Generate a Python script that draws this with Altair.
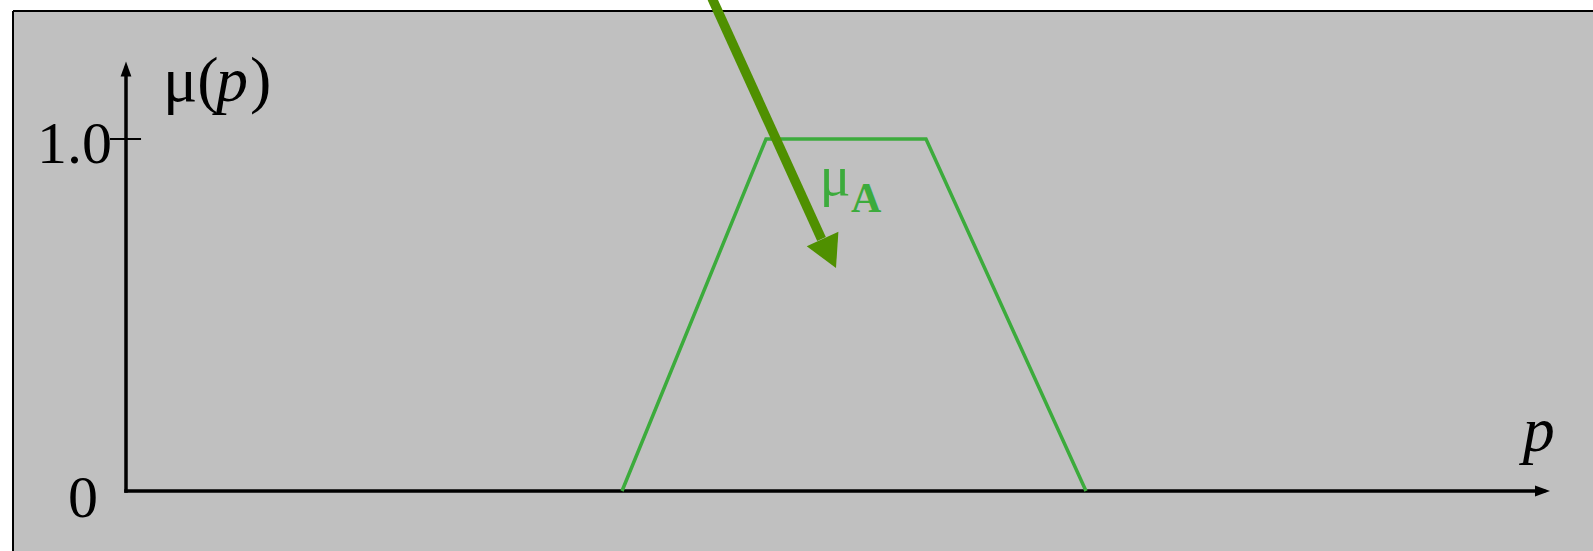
import altair as alt
import pandas as pd

# Trapezoidal membership function of fuzzy set A
p_points = [3.1, 4.0, 5.0, 6.0]
mu_points = [0.0, 1.0, 1.0, 0.0]

# Axis extents (arrow tips) and the labelled tick
p_axis_end = 8.9
mu_axis_end = 1.22
tick_value = 1.0
tick_half = [-0.1, 0.094]

# Pointer arrow coming down onto the set
arrow_p = [3.6625, 4.347]
arrow_mu = [1.40, 0.716]
arrow_tip_p = [4.4375]
arrow_tip_mu = [0.6335]

# Text
y_tick_labels = ["1.0", "0"]
y_title_parts = ["μ(", "p", ")"]
x_title = "p"
set_label = ["μ", "A"]

W, H = 1580, 540
FONT = "Liberation Serif"
LINE_GREEN = "#3cab3c"
ARROW_GREEN = "#4f9000"

xs = alt.Scale(domain=[-0.70625, 9.16875], nice=False, zero=False)
ys = alt.Scale(domain=[-0.170455, 1.363636], nice=False, zero=False)


def X(field="p"):
    return alt.X(f"{field}:Q", scale=xs, axis=None)


def Y(field="mu"):
    return alt.Y(f"{field}:Q", scale=ys, axis=None)


def df(**cols):
    return pd.DataFrame(cols)


one = df(a=[0])

# frame edges (top and left)
frame_top = alt.Chart(one).mark_rule(color="black", strokeWidth=2).encode(
    x=alt.value(0), x2=alt.value(W), y=alt.value(0))
frame_left = alt.Chart(one).mark_rule(color="black", strokeWidth=2).encode(
    x=alt.value(0), y=alt.value(0), y2=alt.value(H))

# axes
y_axis = alt.Chart(df(p=[0.0], mu=[0.0], mu2=[mu_axis_end - 0.02])).mark_rule(
    color="black", strokeWidth=3.5, strokeCap="square").encode(x=X(), y=Y(), y2="mu2:Q")
x_axis = alt.Chart(df(p=[0.0], p2=[p_axis_end - 0.04], mu=[0.0])).mark_rule(
    color="black", strokeWidth=3.5, strokeCap="square").encode(x=X(), x2="p2:Q", y=Y())
tick = alt.Chart(df(p=[tick_half[0]], p2=[tick_half[1]], mu=[tick_value])).mark_rule(
    color="black", strokeWidth=2).encode(x=X(), x2="p2:Q", y=Y())

head_shape = "M0,0 L-0.72,2 L0.72,2 Z"
y_head = alt.Chart(df(p=[0.0], mu=[mu_axis_end])).mark_point(
    shape=head_shape, filled=True, size=225, color="black", opacity=1, strokeWidth=0
).encode(x=X(), y=Y())
x_head = alt.Chart(df(p=[p_axis_end], mu=[0.0])).mark_point(
    shape=head_shape, filled=True, size=225, angle=90, color="black", opacity=1, strokeWidth=0
).encode(x=X(), y=Y())

# membership function
trap = alt.Chart(df(p=p_points, mu=mu_points)).mark_line(
    color=LINE_GREEN, strokeWidth=3.5, strokeJoin="miter").encode(x=X(), y=Y())

# pointer arrow
shaft = alt.Chart(df(p=arrow_p, mu=arrow_mu)).mark_line(
    color=ARROW_GREEN, strokeWidth=9.5, strokeCap="butt").encode(x=X(), y=Y())
big_head = alt.Chart(df(p=arrow_tip_p, mu=arrow_tip_mu)).mark_point(
    shape="M0,0 L-1.09,2 L1.09,2 Z", filled=True, size=1024, angle=155.2,
    color=ARROW_GREEN, opacity=1, strokeWidth=0
).encode(x=X(), y=Y())

# tick labels
lbl_one = alt.Chart(df(p=[-0.0875], mu=[tick_value], t=[y_tick_labels[0]])).mark_text(
    font=FONT, fontSize=60, align="right", baseline="alphabetic", dy=24, color="black"
).encode(x=X(), y=Y(), text="t:N")
lbl_zero = alt.Chart(df(p=[-0.175], mu=[0.0], t=[y_tick_labels[1]])).mark_text(
    font=FONT, fontSize=60, align="right", baseline="alphabetic", dy=26, color="black"
).encode(x=X(), y=Y(), text="t:N")

# y title μ(p)
yt_a = alt.Chart(df(p=[0.231], mu=[1.108], t=[y_title_parts[0]])).mark_text(
    font=FONT, fontSize=64, align="left", baseline="alphabetic", color="black"
).encode(x=X(), y=Y(), text="t:N")
yt_b = alt.Chart(df(p=[0.5625], mu=[1.108], t=[y_title_parts[1]])).mark_text(
    font=FONT, fontSize=64, fontStyle="italic", align="left", baseline="alphabetic", color="black"
).encode(x=X(), y=Y(), text="t:N")
yt_c = alt.Chart(df(p=[0.775], mu=[1.108], t=[y_title_parts[2]])).mark_text(
    font=FONT, fontSize=64, align="left", baseline="alphabetic", color="black"
).encode(x=X(), y=Y(), text="t:N")

# x title p
xt = alt.Chart(df(p=[8.73], mu=[0.1136], t=[x_title])).mark_text(
    font=FONT, fontSize=64, fontStyle="italic", align="left", baseline="alphabetic", color="black"
).encode(x=X(), y=Y(), text="t:N")

# set label μ_A
mu_lbl = alt.Chart(df(p=[4.335], mu=[0.841], t=[set_label[0]])).mark_text(
    font=FONT, fontSize=58, align="left", baseline="alphabetic", color=LINE_GREEN
).encode(x=X(), y=Y(), text="t:N")
a_lbl = alt.Chart(df(p=[4.531], mu=[0.7926], t=[set_label[1]])).mark_text(
    font=FONT, fontSize=42, fontWeight="bold", align="left", baseline="alphabetic", color=LINE_GREEN
).encode(x=X(), y=Y(), text="t:N")

chart = alt.layer(
    frame_top, frame_left, x_axis, y_axis, tick, x_head, y_head, trap,
    shaft, big_head, lbl_one, lbl_zero, yt_a, yt_b, yt_c, xt, mu_lbl, a_lbl
).properties(
    width=W, height=H,
    autosize=alt.AutoSizeParams(type="none"),
    padding={"left": 13, "top": 11, "right": 0, "bottom": 0},
    background="white",
).configure_view(fill="#c0c0c0", stroke="transparent")

chart.save("out.html", embed_options={"renderer": "svg", "actions": False})
